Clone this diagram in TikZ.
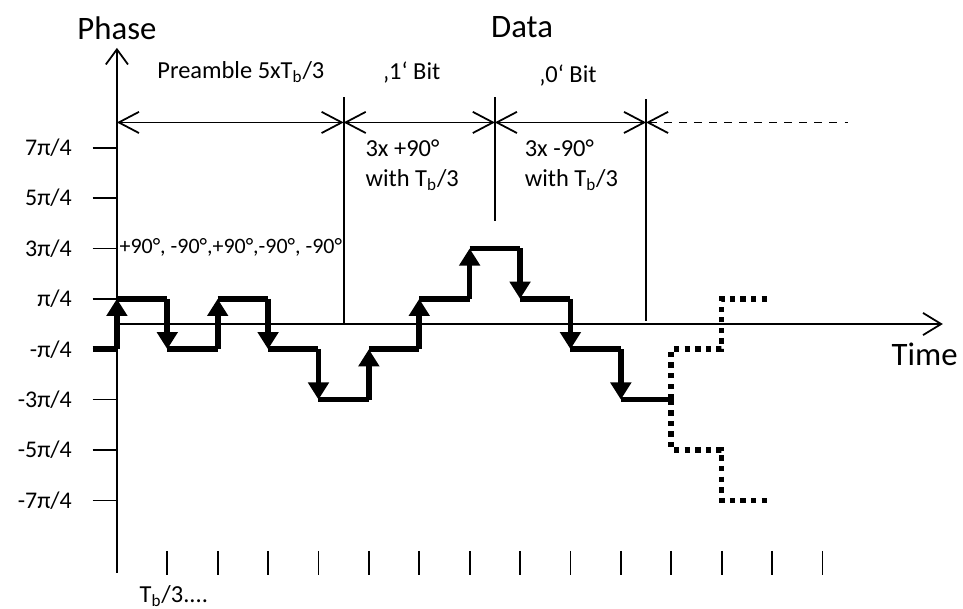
\documentclass[tikz,border=0pt]{standalone}
\usepackage{fontspec}
\setmainfont{Carlito}
\usetikzlibrary{arrows.meta}

\begin{document}
\begin{tikzpicture}[
    line width=1pt,
    axis label/.style={font=\fontsize{18.5}{21}\selectfont},
    level label/.style={font=\fontsize{13.5}{16}\selectfont, anchor=east},
    note/.style={font=\fontsize{13.8}{16}\selectfont},
    barb/.tip={Straight Barb[length=4mm,width=4.2mm]},
    span/.style={barb-barb},
    signal/.style={line width=3.2pt},
    jump/.style={signal, -{Triangle[length=3.4mm,width=4mm]}},
    guess/.style={signal, dash pattern=on 3pt off 3pt}
  ]
    \useasboundingbox (-2.32,-5.65) rectangle (16.79,6.43);

    % 1. Axes
    \coordinate (O) at (0,0);
    \coordinate (B) at (0,-4.94);
    \coordinate (P) at (0,5.48);
    \coordinate (T) at (16.39,0);
    \draw[-{Straight Barb[length=3mm,width=4.4mm]}] (B) -- (P);
    \draw[-{Straight Barb[length=3.6mm,width=4.4mm]}] (O) -- (T);
    \node[axis label] at (0,5.87) {Phase};
    \node[axis label] at (8.04,5.9) {Data};
    \node[axis label] at (16.03,-0.6) {Time};

    % 2. Phase levels
    \foreach \lvl/\txt in {3.5/{7π/4}, 2.5/{5π/4}, 1.5/{3π/4}, 0.5/{π/4},
                           -0.5/{-π/4}, -1.5/{-3π/4}, -2.5/{-5π/4}, -3.5/{-7π/4}} {
        \draw (-0.48,\lvl) -- (0,\lvl);
        \node[level label] at (-0.76,\lvl) {\txt};
    }

    % 3. Time ticks
    \foreach \k in {1,...,14} {
        \draw (\k,-4.5) -- (\k,-4.98);
    }
    \node[note] at (1.13,-5.4) {T\textsubscript{b}/3....};

    % 4. Sections
    \coordinate (S0) at (0,4);
    \coordinate (S1) at (4.5,4);
    \coordinate (S2) at (7.5,4);
    \coordinate (S3) at (10.5,4);
    \coordinate (S4) at (14.5,4);
    \draw (4.5,4.5) -- (4.5,0);
    \draw (7.5,4.5) -- (7.5,2.04);
    \draw (10.5,4.46) -- (10.5,0.06);
    \draw[span] (S0) -- (S1);
    \draw[span] (S1) -- (S2);
    \draw[span] (S2) -- (S3);
    \draw[barb-, dash pattern=on 4.5pt off 4pt] (S3) -- (S4);

    \node[note] at (2.46,5.0) {Preamble 5xT\textsubscript{b}/3};
    \node[note] at (5.85,5.0) {‚1‘ Bit};
    \node[note] at (8.95,4.94) {‚0‘ Bit};
    \node[note, anchor=west, align=left] at (4.8,3.15) {3x +90°\\[1pt] with T\textsubscript{b}/3};
    \node[note, anchor=west, align=left] at (7.96,3.15) {3x -90°\\[1pt] with T\textsubscript{b}/3};
    \node[note, anchor=west, font=\fontsize{12.4}{15}\selectfont, inner sep=1pt] at (0,1.52) {+90°, -90°,+90°,-90°, -90°};

    % 5. Phase steps
    \draw[signal] (-0.48,-0.5) -- (0,-0.5);
    \foreach \x/\a/\b in {0/-0.5/0.5, 1/0.5/-0.5, 2/-0.5/0.5, 3/0.5/-0.5,
                          4/-0.5/-1.5, 5/-1.5/-0.5, 6/-0.5/0.5, 7/0.5/1.5,
                          8/1.5/0.5, 9/0.5/-0.5, 10/-0.5/-1.5} {
        \draw[jump] (\x,\a) -- (\x,\b);
        \draw[signal] (\x,\b) -- ({\x+1},\b);
    }

    % 6. Possible continuations
    \draw[guess] (11,-1.5) -- (11,-0.5) -- (12,-0.5) -- (12,0.5) -- (12.9,0.5);
    \draw[guess] (11,-1.5) -- (11,-2.5) -- (12,-2.5) -- (12,-3.5) -- (12.9,-3.5);

  \end{tikzpicture}
\end{document}
